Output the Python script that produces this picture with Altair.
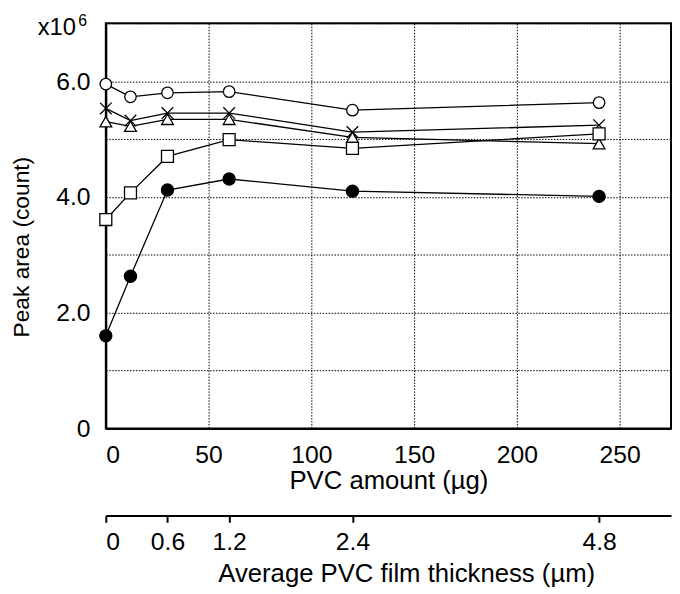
import altair as alt
import pandas as pd

# ---- data ----
pvc = [0, 12, 30, 60, 120, 240]
open_circle = [5.95, 5.73, 5.80, 5.82, 5.50, 5.63]
cross = [5.53, 5.32, 5.45, 5.45, 5.12, 5.24]
triangle = [5.30, 5.22, 5.34, 5.34, 5.03, 4.92]
square = [3.61, 4.07, 4.70, 4.99, 4.84, 5.09]
filled_circle = [1.60, 2.63, 4.12, 4.31, 4.10, 4.01]

series_names = ["open circle", "cross", "triangle", "square", "filled circle"]
series_values = [open_circle, cross, triangle, square, filled_circle]

x_ticks = [0, 50, 100, 150, 200, 250]
y_ticks = [0, 1, 2, 3, 4, 5, 6, 7]
thickness_ticks = [0, 0.6, 1.2, 2.4, 4.8]
multiplier_text = ["x10"]
exponent_text = ["6"]

# ---- styles ----
shape_range = ["circle", "M-1,-1L1,1M1,-1L-1,1", "triangle-up", "square", "circle"]
fill_range = ["white", "white", "white", "white", "black"]
size_range = [135, 150, 170, 144, 135]
FONT = "Liberation Sans"

rows = [
    {"pvc": p, "area": v, "series": s}
    for s, vals in zip(series_names, series_values)
    for p, v in zip(pvc, vals)
]
df = pd.DataFrame(rows)
thick_df = pd.DataFrame({"thickness": thickness_ticks})

x_scale = alt.Scale(domain=[0, 275], nice=False, zero=True)
y_scale = alt.Scale(domain=[0, 7], nice=False, zero=True)

x_axis = alt.Axis(
    values=x_ticks, grid=True, gridColor="black", gridDash=[1.5, 1.5], gridWidth=1,
    ticks=False, tickSize=0, domainColor="black", domainWidth=2,
    labelFont=FONT, labelFontSize=25, labelColor="black", labelPadding=14,
    title="PVC amount (µg)", titleFont=FONT, titleFontSize=26, titleFontWeight="normal",
    titleColor="black", titleBaseline="alphabetic", titleY=61,
)
y_axis = alt.Axis(
    values=y_ticks,
    labelExpr="datum.value == 0 ? '0' : (datum.value % 2 == 0 ? format(datum.value, '.1f') : '')",
    grid=True, gridColor="black", gridDash=[1.5, 1.5], gridWidth=1,
    ticks=False, tickSize=0, domainColor="black", domainWidth=2,
    labelFont=FONT, labelFontSize=25, labelColor="black", labelPadding=16,
    title="Peak area (count)", titleFont=FONT, titleFontSize=23, titleFontWeight="normal",
    titleColor="black", titleAngle=270, titleX=-78, titleY=226,
    titleBaseline="alphabetic", titleAlign="center",
)

enc_x = alt.X("pvc:Q", scale=x_scale, axis=x_axis)
enc_y = alt.Y("area:Q", scale=y_scale, axis=y_axis)

lines = alt.Chart(df).mark_line(color="black", strokeWidth=1.3).encode(
    x=enc_x, y=enc_y, detail="series:N"
)
points = alt.Chart(df).mark_point(stroke="black", strokeWidth=1.3, opacity=1).encode(
    x=enc_x,
    y=enc_y,
    shape=alt.Shape("series:N", scale=alt.Scale(domain=series_names, range=shape_range), legend=None),
    fill=alt.Fill("series:N", scale=alt.Scale(domain=series_names, range=fill_range), legend=None),
    size=alt.Size("series:N", scale=alt.Scale(domain=series_names, range=size_range), legend=None),
)

mult = alt.Chart(pd.DataFrame({"t": multiplier_text})).mark_text(
    font=FONT, fontSize=24, color="black", align="left", baseline="alphabetic"
).encode(text="t:N", x=alt.value(-69), y=alt.value(12))
expo = alt.Chart(pd.DataFrame({"t": exponent_text})).mark_text(
    font=FONT, fontSize=16, color="black", align="left", baseline="alphabetic"
).encode(text="t:N", x=alt.value(-28), y=alt.value(3))

main = alt.layer(lines, points, mult, expo)

sec = alt.Chart(thick_df).mark_point(opacity=0).encode(
    x=alt.X(
        "thickness:Q",
        scale=alt.Scale(domain=[0, 5.5], nice=False, zero=True),
        axis=alt.Axis(
            orient="bottom", offset=88, values=thickness_ticks,
            labelExpr="datum.value == 0 ? '0' : format(datum.value, '.1f')",
            grid=False, ticks=True, tickSize=7, tickWidth=2, tickColor="black",
            domainColor="black", domainWidth=2,
            labelFont=FONT, labelFontSize=25, labelColor="black", labelPadding=8,
            title="Average PVC film thickness (µm)", titleFont=FONT, titleFontSize=26,
            titleFontWeight="normal", titleColor="black", titleBaseline="alphabetic",
            titleX=304, titleY=67,
        ),
    ),
    y=alt.value(0),
)

chart = (
    alt.layer(main, sec)
    .resolve_scale(x="independent")
    .properties(
        width=572, height=410,
        padding={"left": 99, "top": 12, "right": 1, "bottom": 162},
        autosize=alt.AutoSizeParams(type="none"),
    )
    .configure_view(stroke="black", strokeWidth=2)
)

chart.save("out.html", embed_options={"renderer": "svg", "actions": False})
